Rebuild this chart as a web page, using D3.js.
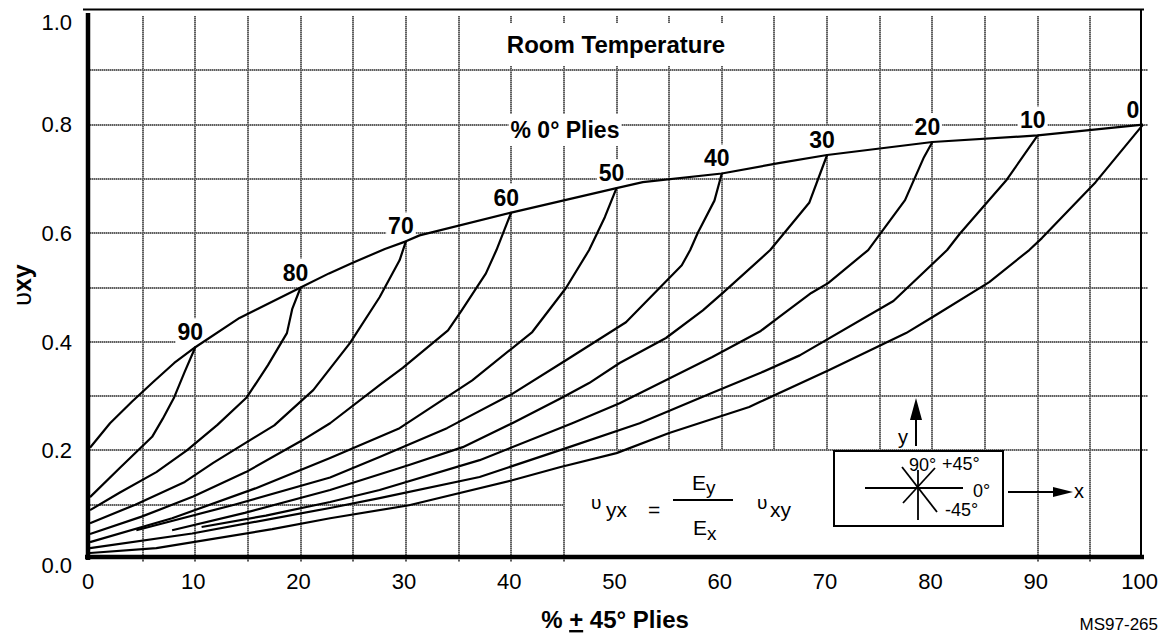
<!DOCTYPE html>
<html>
<head>
<meta charset="utf-8">
<script src="https://cdn.jsdelivr.net/npm/d3@7"></script>
<style>
  body { margin: 0; background: #fff; }
  text { font-family: "Liberation Sans", Arial, sans-serif; fill: #000; }
</style>
</head>
<body>
<div id="chart-area"></div>
<script>
// x = % ±45° plies, y = Poisson's ratio nu_xy
var xTicks = [0, 10, 20, 30, 40, 50, 60, 70, 80, 90, 100];
var yTicks = [0, 0.2, 0.4, 0.6, 0.8, 1.0];
var xGrid = d3.range(5, 100, 5);
var yGrid = [0.1, 0.2, 0.3, 0.4, 0.5, 0.6, 0.7, 0.8, 0.9];

// laminates with no 90° plies (top curve, "% 0° Plies")
var envelope = [[0,0.205],[1.9,0.25],[4,0.29],[6,0.326],[8,0.361],[10,0.39],[14.2,0.444],[20,0.5],[22.7,0.526],[24.9,0.545],[28,0.571],[30,0.585],[31.3,0.596],[40,0.638],[50,0.683],[52.5,0.694],[60,0.71],[65.4,0.729],[70,0.744],[80,0.768],[90,0.78],[100,0.8]];

// one curve per % 0° plies, running from the envelope down-left (90° plies added)
var curve90 = [[10,0.39],[9.0,0.345],[8.0,0.298],[6.9,0.258],[5.9,0.225],[2.8,0.167],[0,0.114]];
var curve80 = [[20,0.5],[19.2,0.46],[18.7,0.416],[16.9,0.357],[14.9,0.298],[12.1,0.247],[9.2,0.2],[6.3,0.16],[2.8,0.122],[0,0.09]];
var curve70 = [[30,0.585],[29.4,0.55],[27.5,0.482],[24.7,0.398],[21.2,0.311],[17.5,0.246],[15.2,0.219],[11.7,0.177],[9.0,0.142],[4.3,0.1],[0,0.066]];
var curve60 = [[40,0.638],[38.6,0.569],[37.6,0.526],[35.3,0.458],[34.0,0.421],[29.7,0.352],[27.5,0.32],[22.8,0.25],[20.2,0.219],[14.8,0.16],[9.8,0.115],[4.9,0.078],[0,0.046]];
var curve50 = [[50,0.683],[48.9,0.63],[47.4,0.569],[45.2,0.499],[42.0,0.418],[36.3,0.329],[29.4,0.241],[22.8,0.186],[15.7,0.13],[7.8,0.075],[0,0.031]];
var curve40 = [[60,0.71],[59.3,0.66],[57.7,0.6],[57.0,0.569],[56.2,0.541],[50.9,0.436],[45.2,0.366],[40.1,0.304],[33.9,0.241],[27.5,0.188],[22.8,0.15],[13.7,0.1],[4.4,0.053]];
var curve30 = [[70,0.744],[68.3,0.656],[64.6,0.569],[60.1,0.49],[58.2,0.458],[54.7,0.407],[50.3,0.361],[47.4,0.324],[44.9,0.298],[40.1,0.25],[35.4,0.206],[30.3,0.173],[22.8,0.127],[14.7,0.085],[7.8,0.053]];
var curve20 = [[80,0.768],[79.2,0.74],[77.4,0.661],[73.9,0.569],[70.1,0.508],[68.5,0.49],[65.4,0.445],[63.7,0.42],[59.1,0.372],[50.3,0.287],[45.8,0.25],[37.0,0.182],[27.5,0.127],[22.8,0.105],[16.7,0.08],[10.6,0.059]];
var curve10 = [[90,0.78],[87.0,0.697],[82.6,0.599],[81.4,0.569],[76.3,0.475],[67.4,0.375],[63.7,0.343],[59.1,0.306],[52.2,0.25],[45.5,0.206],[37.0,0.151],[27.5,0.112],[22.8,0.094],[9.7,0.047],[0,0.02]];
var curve0 = [[100,0.8],[95.5,0.694],[90.4,0.591],[89.2,0.569],[85.4,0.51],[80.3,0.449],[77.5,0.416],[70.2,0.348],[63.6,0.289],[62.6,0.28],[55.0,0.232],[50.0,0.195],[44.6,0.169],[40.1,0.145],[30.3,0.099],[22.8,0.075],[17.3,0.055],[6.3,0.02],[0,0.011]];

var pctLabels = ["90", "80", "70", "60", "50", "40", "30", "20", "10", "0"];
var curves = [curve90, curve80, curve70, curve60, curve50, curve40, curve30, curve20, curve10, curve0];

var W = 1165, H = 635;
var svg = d3.select("#chart-area").append("svg")
	.attr("width", W)
	.attr("height", H);

var xScale = d3.scaleLinear().domain([0, 100]).range([90, 1143]);
var yScale = d3.scaleLinear().domain([0, 1]).range([559, 16]);

var gridG = svg.append("g");
var bgG = svg.append("g");
var lineG = svg.append("g");
var frameG = svg.append("g");
var textG = svg.append("g");

// grid (blank corner under the formula: x >= 50, y < 0.2)
function vEnd(v) { return (v >= 50 && v <= 85) ? yScale(0.2) : yScale(0) + 3; }
function hEnd(v) { return v < 0.2 ? xScale(45) : xScale(100) + 5; }

[{ c: "#a6a6a6", d: null }, { c: "#5e5e5e", d: "1 1" }].forEach(function (s) {
	gridG.selectAll(null).data(xGrid).enter().append("line")
		.attr("x1", d => Math.round(xScale(d))).attr("x2", d => Math.round(xScale(d)))
		.attr("y1", yScale(1)).attr("y2", d => vEnd(d))
		.attr("stroke", s.c).attr("stroke-width", 2).attr("stroke-dasharray", s.d);
	gridG.selectAll(null).data(yGrid).enter().append("line")
		.attr("y1", d => Math.round(yScale(d))).attr("y2", d => Math.round(yScale(d)))
		.attr("x1", xScale(0)).attr("x2", d => hEnd(d))
		.attr("stroke", s.c).attr("stroke-width", 2).attr("stroke-dasharray", s.d);
});

// text with a white box behind it (cuts the grid)
function boxedText(x, y, str, size, weight, anchor, padX, padY) {
	var t = textG.append("text")
		.attr("x", x).attr("y", y)
		.attr("font-size", size + "px")
		.attr("font-weight", weight)
		.attr("text-anchor", anchor)
		.text(str);
	var b = t.node().getBBox();
	bgG.append("rect")
		.attr("x", b.x - padX).attr("y", b.y - padY)
		.attr("width", b.width + 2 * padX).attr("height", b.height + 2 * padY)
		.attr("fill", "#fff");
	return t;
}

var line = d3.line().x(d => xScale(d[0])).y(d => yScale(d[1]));

lineG.append("path")
	.datum(envelope)
	.attr("d", line)
	.attr("fill", "none").attr("stroke", "#000").attr("stroke-width", 2.2)
	.attr("stroke-linejoin", "round");

lineG.selectAll(".fam").data(curves).enter().append("path")
	.attr("class", "fam")
	.attr("d", line)
	.attr("fill", "none").attr("stroke", "#000").attr("stroke-width", 2.2)
	.attr("stroke-linejoin", "round");

// curve labels above their envelope points
curves.forEach(function (c, i) {
	var p = c[0];
	var lx = xScale(p[0]) - 5, ly = yScale(p[1]) - 7;
	if (i === pctLabels.length - 1) lx = xScale(p[0]) - 10;
	boxedText(lx, ly, pctLabels[i], 23, "bold", "middle", 2, 1);
});

boxedText(616, 53, "Room Temperature", 24, "bold", "middle", 30, 8);
boxedText(565, 138, "% 0\u00b0 Plies", 23, "bold", "middle", 2, 3);

// frame
frameG.append("line").attr("x1", xScale(0) - 2).attr("x2", xScale(0) - 2)
	.attr("y1", 13).attr("y2", yScale(0) + 1).attr("stroke", "#000").attr("stroke-width", 4.5);
frameG.append("line").attr("x1", xScale(0) - 5).attr("x2", xScale(100) + 1)
	.attr("y1", yScale(0) - 2).attr("y2", yScale(0) - 2).attr("stroke", "#000").attr("stroke-width", 4.5);
frameG.append("line").attr("x1", xScale(0) - 7).attr("x2", xScale(100) + 1)
	.attr("y1", 9.5).attr("y2", 9.5).attr("stroke", "#000").attr("stroke-width", 2);
frameG.append("line").attr("x1", xScale(100) - 2).attr("x2", xScale(100) - 2)
	.attr("y1", 9).attr("y2", yScale(0) - 2).attr("stroke", "#000").attr("stroke-width", 2);

// tick labels
textG.selectAll(".xt").data(xTicks).enter().append("text")
	.attr("class", "xt")
	.attr("x", d => d === 100 ? xScale(d) + 15 : xScale(d) - 2)
	.attr("y", 589)
	.attr("text-anchor", d => d === 100 ? "end" : "middle")
	.attr("font-size", "22px")
	.text(d => d);

textG.selectAll(".yt").data(yTicks).enter().append("text")
	.attr("class", "yt")
	.attr("x", 72)
	.attr("y", d => yScale(d) + ((d === 0 || d === 1) ? 6 : 0))
	.attr("dy", "0.35em")
	.attr("text-anchor", "end")
	.attr("font-size", "22px")
	.text(d => d3.format(".1f")(d));

// axis titles
var xt = textG.append("text")
	.attr("x", 615).attr("y", 628)
	.attr("text-anchor", "middle")
	.attr("font-size", "24px").attr("font-weight", "bold");
xt.append("tspan").text("% ");
xt.append("tspan").style("text-decoration", "underline").text("+");
xt.append("tspan").text(" 45\u00b0 Plies");

var yt = textG.append("text")
	.attr("transform", "translate(31,285) rotate(-90)")
	.attr("text-anchor", "middle")
	.attr("font-size", "25px");
yt.append("tspan").text("\u03c5");
yt.append("tspan").attr("font-weight", "bold").text("xy");

// formula
textG.append("text").attr("x", 591).attr("y", 509).attr("font-size", "19px").text("\u03c5");
textG.append("text").attr("x", 606).attr("y", 517).attr("font-size", "21px").text("yx");
textG.append("text").attr("x", 648).attr("y", 517).attr("font-size", "21px").text("=");
frameG.append("line").attr("x1", 673).attr("x2", 733).attr("y1", 500).attr("y2", 500)
	.attr("stroke", "#000").attr("stroke-width", 2);
var num = textG.append("text").attr("x", 692).attr("y", 490).attr("font-size", "21px");
num.append("tspan").text("E");
num.append("tspan").attr("dy", 4).attr("font-size", "19px").text("y");
var den = textG.append("text").attr("x", 693).attr("y", 535).attr("font-size", "21px");
den.append("tspan").text("E");
den.append("tspan").attr("dy", 5).attr("font-size", "19px").text("x");
textG.append("text").attr("x", 757).attr("y", 509).attr("font-size", "19px").text("\u03c5");
textG.append("text").attr("x", 770).attr("y", 517).attr("font-size", "21px").text("xy");

// ply orientation key
frameG.append("rect").attr("x", 834).attr("y", 451).attr("width", 169).attr("height", 75)
	.attr("fill", "#fff").attr("stroke", "#000").attr("stroke-width", 2);
var star = [[865, 488, 963, 488], [918, 470, 918, 520], [902, 467, 937, 512], [903, 503, 935, 468]];
frameG.selectAll(".star").data(star).enter().append("line")
	.attr("x1", d => d[0]).attr("y1", d => d[1]).attr("x2", d => d[2]).attr("y2", d => d[3])
	.attr("stroke", "#000").attr("stroke-width", 1.8);
textG.append("text").attr("x", 909).attr("y", 471).attr("font-size", "18px").text("90\u00b0");
textG.append("text").attr("x", 942).attr("y", 470).attr("font-size", "18px").text("+45\u00b0");
textG.append("text").attr("x", 973).attr("y", 497).attr("font-size", "18px").text("0\u00b0");
textG.append("text").attr("x", 945).attr("y", 516).attr("font-size", "18px").text("-45\u00b0");

frameG.append("line").attr("x1", 916).attr("x2", 916).attr("y1", 446).attr("y2", 416)
	.attr("stroke", "#000").attr("stroke-width", 2);
frameG.append("path").attr("d", "M916,398 L910,420 L922,420 Z").attr("fill", "#000");
textG.append("text").attr("x", 898).attr("y", 444).attr("font-size", "20px").text("y");

frameG.append("line").attr("x1", 1008).attr("x2", 1056).attr("y1", 492).attr("y2", 492)
	.attr("stroke", "#000").attr("stroke-width", 2);
frameG.append("path").attr("d", "M1073,492 L1053,487 L1053,497 Z").attr("fill", "#000");
textG.append("text").attr("x", 1074).attr("y", 498).attr("font-size", "20px").text("x");

textG.append("text").attr("x", 1158).attr("y", 630)
	.attr("text-anchor", "end").attr("font-size", "17px").text("MS97-265");
</script>
</body>
</html>
